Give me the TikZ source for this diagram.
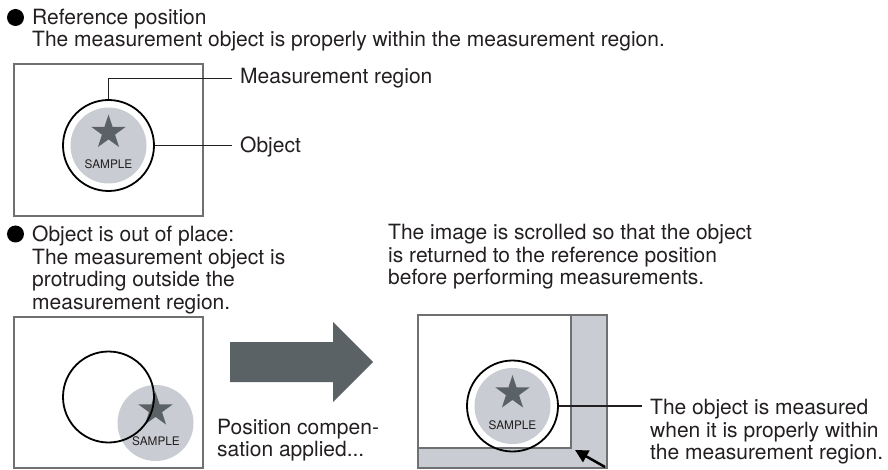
\documentclass[tikz,border=0pt]{standalone}
\usepackage{fontspec}
\setmainfont{TeX Gyre Heros}
\usetikzlibrary{arrows.meta}
\definecolor{framegray}{HTML}{6E7072}
\definecolor{diskgray}{HTML}{C9CCD2}
\definecolor{stargray}{HTML}{5B6265}
\definecolor{txt}{HTML}{231F20}
\tikzset{
  pics/sstar/.style={code={
    \fill[stargray] (-90:18) \foreach \k [evaluate=\k as \rr using {mod(\k,2)==0 ? 18 : 6.9}] in {1,...,9}{ -- ({-90+36*\k}:\rr) } -- cycle;
  }}
}
\begin{document}
\begin{tikzpicture}[x=1pt,y=-1pt,
  frame/.style={draw=framegray, line width=1.6pt},
  region/.style={circle, draw=black, line width=1.8pt, minimum size=91pt, inner sep=0pt},
  disk/.style={circle, fill=diskgray, minimum size=76pt, inner sep=0pt},
  lbl/.style={font=\fontsize{21}{22.5}\selectfont, text=txt, inner sep=0pt, anchor=base west},
  block/.style={font=\fontsize{21}{22.5}\selectfont, text=txt, inner sep=0pt, anchor=north west, align=left},
  smp/.style={font=\fontsize{11.8}{12}\selectfont, text=txt, inner sep=0pt, anchor=base},
  leader/.style={draw=txt, line width=1.3pt},
  bullet/.style={circle, fill=black, minimum size=17pt, inner sep=0pt}]
\useasboundingbox (0,0) rectangle (888,470);

% ---- header 1
\node[bullet] (b1) at (15.5,17.5) {};
\node[lbl] (t1) at (32,25) {Reference position};
\node[lbl] (t2) at (32,47) {The measurement object is properly within the measurement region.};

% ---- top frame
\draw[frame] (14,64) rectangle (203,216);
\node[disk] (obj1) at (108.5,145.5) {};
\pic at (108.5,132.5) {sstar};
\node[smp] (smp1) at (108.5,168.5) {SAMPLE};
\node[region] (reg1) at (108.5,145.5) {};
\node[lbl] (lab1) at (240,84) {Measurement region};
\node[lbl] (lab2) at (240,153) {Object};
\coordinate (e1) at ([xshift=-8pt]lab1.west);
\coordinate (e2) at ([xshift=-8pt]lab2.west);
\draw[leader] (reg1.north) |- (e1);
\draw[leader] (reg1.east) -- (reg1.east -| e2);

% ---- header 2
\node[bullet] (b2) at (15.5,234) {};
\node[block] (t3) at (32,226) {Object is out of place:\\The measurement object is\\protruding outside the\\measurement region.};

% ---- bottom-left frame
\draw[frame] (14,317) rectangle (203,468);
\node[disk] (obj2) at (155.5,423) {};
\pic at (155.5,410) {sstar};
\node[smp] (smp2) at (156,445) {SAMPLE};
\node[region] (reg2) at (108.5,397) {};

% ---- big arrow
\fill[stargray] (230,342) -- (333,342) -- (333,322) -- (373,362) -- (333,402) -- (333,382) -- (230,382) -- cycle;
\node[block] (pc) at (217,418.5) {Position compen-\\sation applied...};

% ---- right top text
\node[block] (scr) at (388,224) {The image is scrolled so that the object\\is returned to the reference position\\before performing measurements.};

% ---- bottom-right frame
\filldraw[frame, fill=diskgray] (418,315) rectangle (607,468);
\filldraw[frame, fill=white] (418,315) rectangle (571,448);
\node[disk] (obj3) at (512.5,406) {};
\pic at (512.5,393) {sstar};
\node[smp] (smp3) at (512.5,429) {SAMPLE};
\node[region] (reg3) at (512.5,406) {};
\node[block] (meas) at (650,399) {The object is measured\\when it is properly within\\the measurement region.};
\coordinate (e3) at (642,406);
\draw[leader] (reg3.east) -- (e3);

% ---- small scroll arrow
\coordinate (atail) at (605,467);
\coordinate (ahead) at (575,450);
\draw[line width=2.5pt, -{Triangle[length=13pt,width=13pt]}] (atail) -- (ahead);
\end{tikzpicture}
\end{document}
